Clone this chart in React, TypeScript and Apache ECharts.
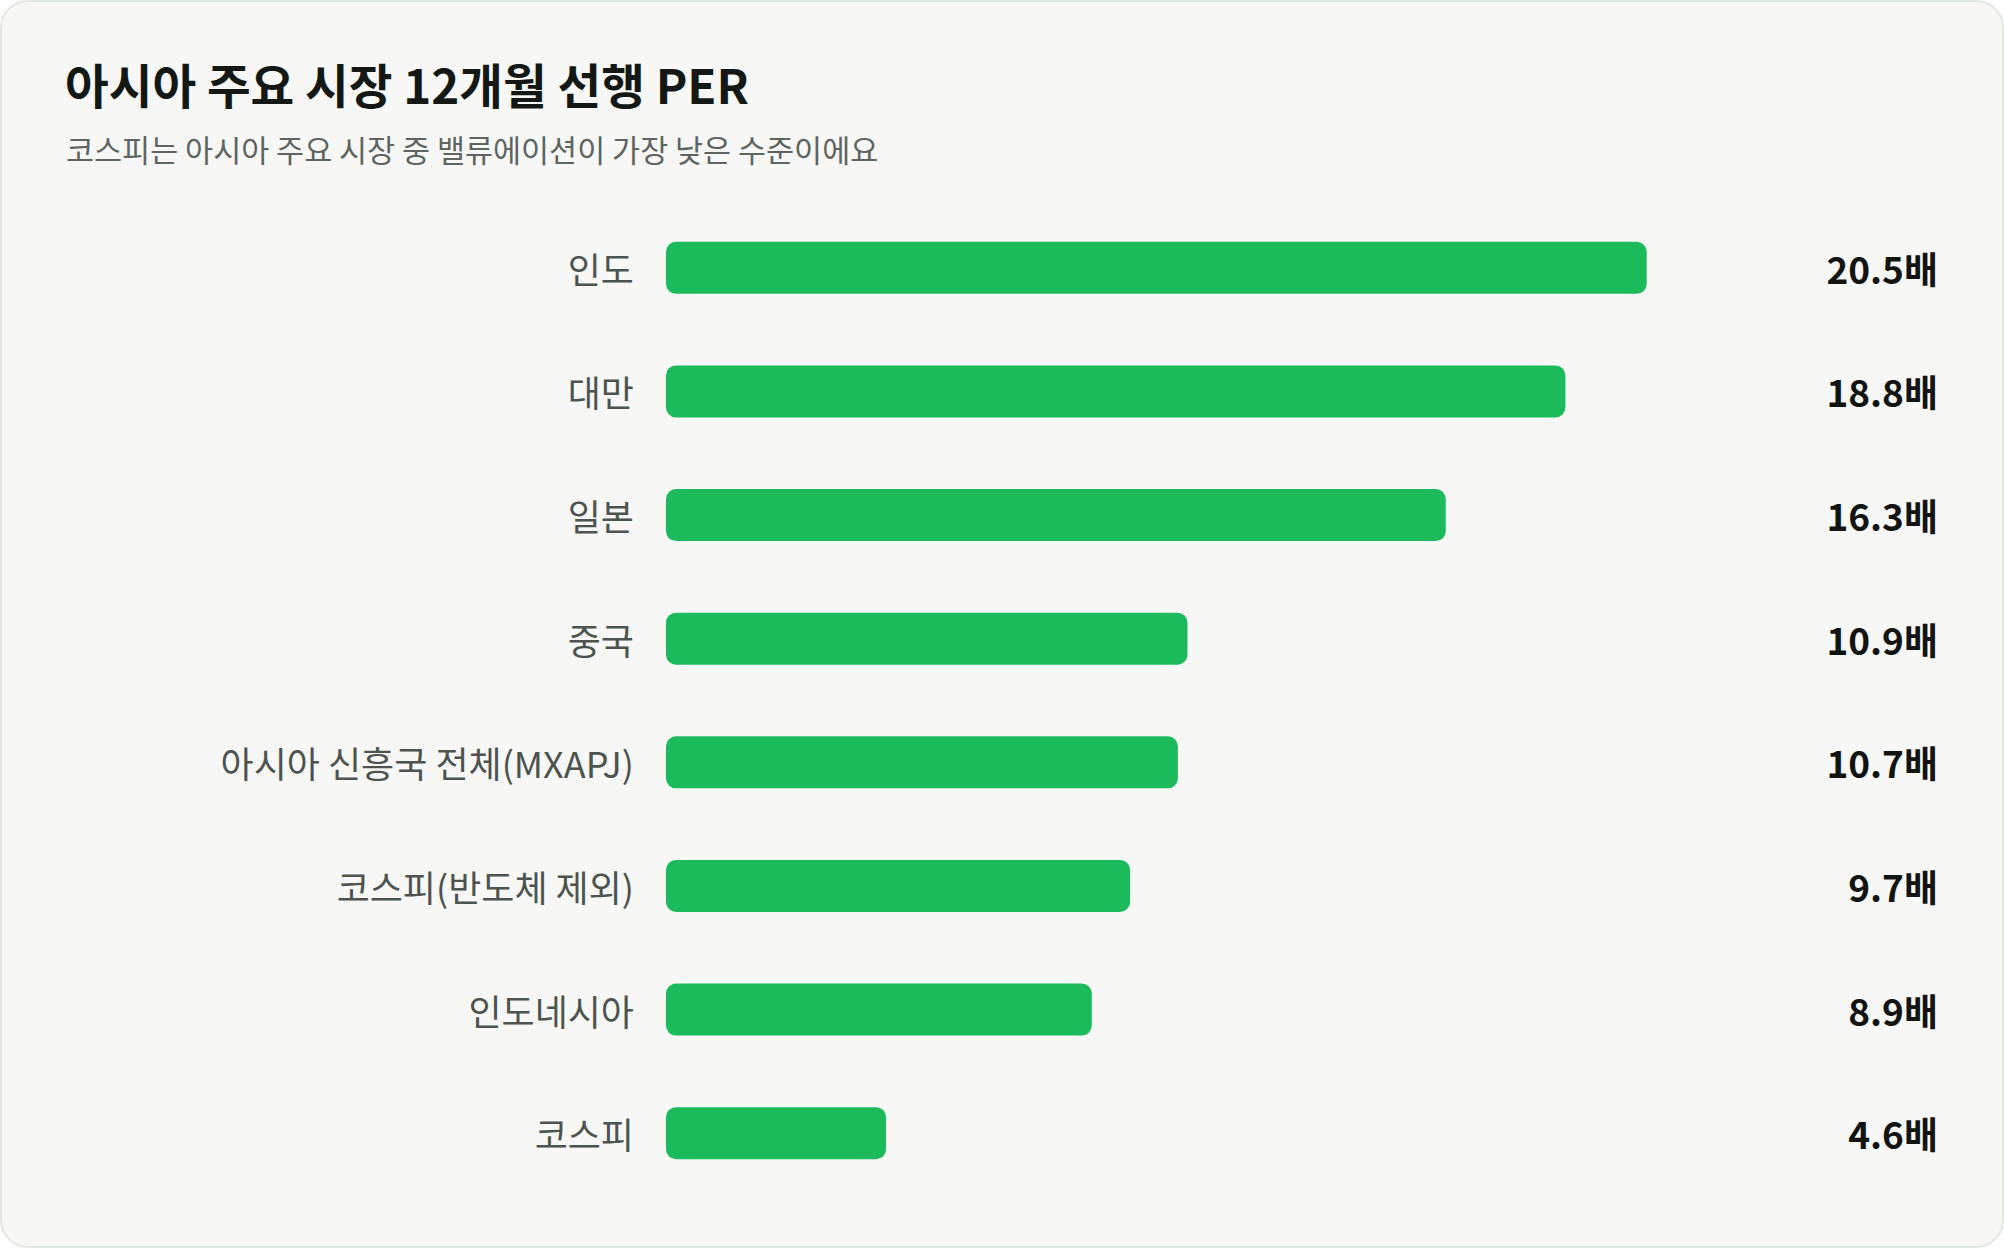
import React, { useEffect, useRef } from 'react';
import * as echarts from 'echarts';

const markets = [
  '인도',
  '대만',
  '일본',
  '중국',
  '아시아 신흥국 전체(MXAPJ)',
  '코스피(반도체 제외)',
  '인도네시아',
  '코스피',
];
const perValues = [20.5, 18.8, 16.3, 10.9, 10.7, 9.7, 8.9, 4.6];
const valueLabels = perValues.map((v) => `${v.toFixed(1)}배`);

const titleText = '아시아 주요 시장 12개월 선행 PER';
const subtitleText = '코스피는 아시아 주요 시장 중 밸류에이션이 가장 낮은 수준이에요';

const FONT = '"Noto Sans CJK KR", "Noto Sans", sans-serif';

const App: React.FC = () => {
  const chartRef = useRef<HTMLDivElement | null>(null);

  useEffect(() => {
    document.body.style.margin = '0';
    const chart = echarts.init(chartRef.current!, null, { renderer: 'svg' });

    const option: echarts.EChartsOption = {
      animation: false,
      graphic: [
        {
          type: 'text',
          left: 63,
          top: 58,
          style: {
            text: titleText,
            font: `bold 47.5px ${FONT}`,
            fill: '#141815',
          },
        },
        {
          type: 'text',
          left: 64,
          top: 132,
          style: {
            text: subtitleText,
            font: `30.5px ${FONT}`,
            fill: '#5e6460',
          },
        },
      ],
      grid: {
        left: 664,
        top: 204,
        right: 140,
        bottom: 51,
      },
      xAxis: {
        type: 'value',
        min: 0,
        max: 25,
        show: false,
      },
      yAxis: [
        {
          type: 'category',
          data: markets,
          inverse: true,
          axisLine: { show: false },
          axisTick: { show: false },
          axisLabel: {
            margin: 32,
            fontFamily: FONT,
            fontSize: 36,
            color: '#4d534f',
          },
        },
        {
          type: 'category',
          data: valueLabels,
          inverse: true,
          position: 'right',
          axisLine: { show: false },
          axisTick: { show: false },
          axisLabel: {
            align: 'right',
            margin: 76,
            fontFamily: FONT,
            fontSize: 37,
            fontWeight: 600,
            color: '#111411',
          },
        },
      ],
      series: [
        {
          type: 'bar',
          data: perValues,
          barWidth: 52,
          itemStyle: {
            color: '#1bba5a',
            borderRadius: 10,
          },
        },
      ],
    };

    chart.setOption(option);
    return () => {
      chart.dispose();
    };
  }, []);

  return (
    <div
      style={{
        position: 'absolute',
        left: 0,
        top: 0,
        width: 2004,
        height: 1248,
        boxSizing: 'border-box',
        border: '2px solid #e3e7e3',
        borderRadius: 28,
        background: '#f7f8f6',
        overflow: 'hidden',
      }}
    >
      <div ref={chartRef} style={{ width: '100%', height: '100%' }} />
    </div>
  );
};

export default App;
